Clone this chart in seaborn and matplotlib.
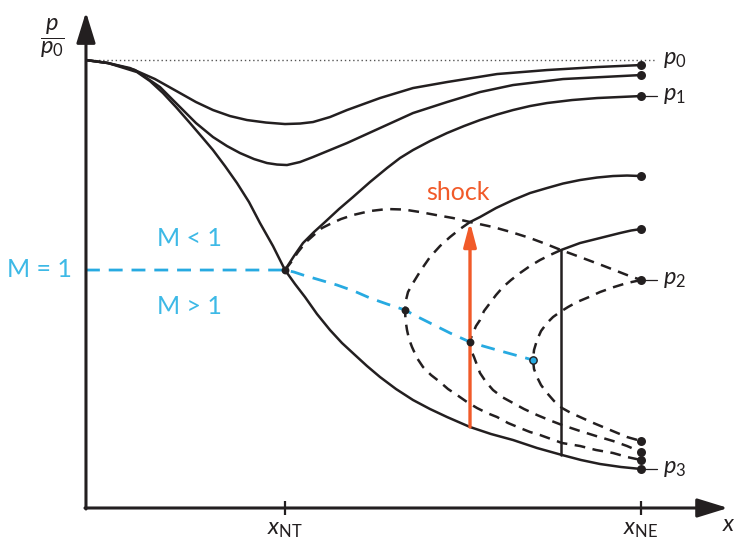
import matplotlib
matplotlib.use("Agg")
import matplotlib.pyplot as plt
import seaborn as sns

sns.set_style("white")
plt.rcParams["font.family"] = ["Lato", "DejaVu Sans"]
plt.rcParams["mathtext.fontset"] = "custom"
plt.rcParams["mathtext.rm"] = "Lato"
plt.rcParams["mathtext.it"] = "Lato:italic"
plt.rcParams["mathtext.bf"] = "Lato:bold"

INK = "#231f20"
BLUE = "#27aae1"
BLUE_TEXT = "#3db9e6"
ORANGE = "#f15a29"

# positions along the nozzle (throat x_NT, exit x_NE) and pressures (p0 = 448)
X_NT, X_NE, P0 = 199, 555, 448

# subsonic curves that never reach M = 1
x_sub_hi = [0, 22, 44, 69, 94, 110, 127, 144, 161, 180, 199, 214, 227, 244, 261, 294, 327, 361, 411, 461, 511, 555]
p_sub_hi = [448, 445, 440, 429, 415, 406, 398, 392, 388, 385.5, 384, 384.5, 386, 391, 398, 410, 420, 426, 434, 438, 441, 443]
x_sub_lo = [0, 22, 49, 74, 94, 110, 127, 141, 154, 168, 181, 191, 201, 214, 227, 244, 261, 294, 327, 361, 394, 427, 477, 555]
p_sub_lo = [448, 445, 438, 421, 401, 385, 371, 362, 355, 349, 345, 343.5, 343, 346, 351, 358, 365, 380, 395, 406, 416, 423, 429, 433]

# critical curve up to the throat, then subsonic (p1) or supersonic (p3)
x_crit = [0, 22, 51, 64, 77, 90, 104, 116, 127, 139, 151, 163, 174, 187, 199]
p_crit = [448, 445, 436, 427, 415, 401, 385, 371, 358, 342, 325, 306, 285, 262, 238]
x_p1 = [199, 208, 217, 228, 239, 253, 267, 284, 301, 314, 327, 344, 361, 378, 394, 411, 427, 444, 461, 486, 511, 533, 555]
p_p1 = [238, 252, 265, 276, 286, 299, 311, 326, 340, 350, 358, 367, 375, 382, 388, 393.5, 398, 402, 405, 408, 410, 411, 412]
x_p3 = [199, 209, 219, 231, 244, 256, 269, 281, 294, 310, 327, 344, 361, 384, 405, 427, 451, 476, 495, 514, 535, 555]
p_p3 = [238, 224, 211, 194, 178, 165, 153, 142, 131, 119, 108, 99, 91, 81, 74, 68, 60, 53, 48, 44, 41, 39]

# shocks in the divergent part and the subsonic flow behind them
x_shock = [384, 475]
p_shock_lo = [81, 53]
p_shock_hi = [286, 258]
x_after1 = [384, 394, 410, 427, 444, 461, 477, 494, 511, 527, 541, 555]
p_after1 = [286, 291, 300, 308, 315, 320, 324.5, 328, 330.5, 332, 332.5, 332]
x_after2 = [475, 494, 514, 534, 545, 555]
p_after2 = [258, 265, 270, 275, 277.5, 279]

# dashed: subsonic branch ending at p2 and the three loops
x_p2 = [199, 206, 212, 220, 229, 236, 244, 255, 267, 284, 301, 318, 334, 350, 367, 384, 407, 425, 444, 460, 475, 494, 518, 541, 555]
p_p2 = [238, 247, 256, 266, 274, 280, 284, 289, 293, 297, 299, 298.5, 296, 293, 290, 286, 281, 276, 270, 264, 258, 251, 242, 233, 228]
x_loop1 = [384, 374, 364, 354, 344, 335, 327, 322, 320, 319, 319.5, 321, 323, 326, 331, 337, 345, 354, 362, 371, 381, 391, 401, 411, 422, 434, 444, 454, 465, 476, 494, 510, 527, 541, 555]
p_loop1 = [286, 279, 271, 262, 251, 238, 225, 216, 208, 198, 188, 178, 169, 161, 150, 141, 133, 126, 119, 113, 106, 100, 95, 91, 85, 80, 76, 73, 69, 65, 62, 58, 55, 51, 48]
x_loop2 = [475, 464, 454, 444, 434, 425, 417, 410, 404, 398, 394, 390, 387, 385, 384, 384.5, 385, 388, 391, 394, 400, 407, 416, 427, 438, 451, 463, 476, 494, 510, 527, 541, 555]
p_loop2 = [258, 253, 248, 242, 235, 228, 221, 213, 205, 197, 188, 182, 175, 170, 166, 162, 158, 151, 143, 135, 126, 118, 111, 105, 99, 93, 88, 83, 77, 72, 67, 62, 56]
x_loop3 = [555, 541, 528, 514, 503, 491, 482, 474, 467, 461, 455, 451, 448, 447, 448, 451, 455, 461, 468, 476, 485, 494, 505, 517, 529, 541, 555]
p_loop3 = [228, 225, 221, 216, 211, 206, 201, 196, 191, 185, 177, 168, 158, 148, 139, 131, 123, 115, 107, 100, 95, 91, 86, 81, 76, 71, 67]

# M = 1 line
x_sonic = [0, 199, 208, 217, 234, 251, 268, 284, 301, 319, 332, 344, 364, 384, 397, 411, 429, 447]
p_sonic = [238, 238, 236, 233, 228, 223, 217, 210, 204, 198, 191, 185, 175, 166, 162, 158, 153, 148]

# marked points
x_end = [555] * 10
p_end = [443, 433, 412, 332, 279, 228, 67, 56, 48, 39]
x_mark = [199, 319, 384]
p_mark = [238, 198, 166]
x_mark_blue = [447]
p_mark_blue = [148]

x_ticks = [X_NT, X_NE]
x_ticklabels = [r"$x_\mathrm{NT}$", r"$x_\mathrm{NE}$"]
p_labels = [r"$p_0$", r"$p_1$", r"$p_2$", r"$p_3$"]
p_label_vals = [P0, 412, 228, 39]

fig = plt.figure(figsize=(7.38, 5.48), dpi=100)
ax = fig.add_axes([0.1165, 0.073, 0.87, 0.905])


def line(x, p, color=INK, lw=1.8, ls="-", z=2):
    sns.lineplot(x=x, y=p, sort=False, estimator=None, color=color,
                 lw=lw, ls=ls, zorder=z, ax=ax)


DASH = (0, (4.3, 3.0))
for x, p in [(x_sub_hi, p_sub_hi), (x_sub_lo, p_sub_lo), (x_crit, p_crit),
             (x_p1, p_p1), (x_p3, p_p3), (x_after1, p_after1), (x_after2, p_after2)]:
    line(x, p)
for x, p in [(x_p2, p_p2), (x_loop1, p_loop1), (x_loop2, p_loop2), (x_loop3, p_loop3)]:
    line(x, p, ls=DASH)
line(x_sonic, p_sonic, color=BLUE, lw=2.0, ls=(0, (5.0, 3.2)), z=3)

# p0 reference and label leaders
ax.plot([0, 569], [P0, P0], color="#555555", lw=1.0, ls=(0, (1, 2)), zorder=1)
for pv in p_label_vals[1:]:
    ax.plot([X_NE, 571], [pv, pv], color=INK, lw=0.9, zorder=2)

# shocks
line([x_shock[1]] * 2, [p_shock_lo[1], p_shock_hi[1]], lw=1.8)
ax.annotate("", xy=(x_shock[0], p_shock_hi[0]), xytext=(x_shock[0], p_shock_lo[0]),
            arrowprops=dict(arrowstyle="-|>,head_length=0.72,head_width=0.19",
                            mutation_scale=20, color=ORANGE, lw=2.4,
                            shrinkA=0, shrinkB=0), zorder=4)

sns.scatterplot(x=x_end, y=p_end, color=INK, s=42, linewidth=0, zorder=5, ax=ax)
sns.scatterplot(x=x_mark, y=p_mark, color=INK, s=32, linewidth=0, zorder=5, ax=ax)
sns.scatterplot(x=x_mark_blue, y=p_mark_blue, color=BLUE, s=28, edgecolor=INK,
                linewidth=1.0, zorder=5, ax=ax)

# axes with arrow heads
ax.set_xlim(0, 642)
ax.set_ylim(0, 496)
for s in ax.spines.values():
    s.set_visible(False)
arrow = dict(arrowstyle="-|>,head_length=0.94,head_width=0.29", mutation_scale=20,
             color=INK, lw=2.2, shrinkA=0, shrinkB=0)
ax.annotate("", xy=(0, 496), xytext=(0, -1), arrowprops=arrow, annotation_clip=False)
ax.annotate("", xy=(642, 0), xytext=(-1, 0), arrowprops=arrow, annotation_clip=False)

ax.set_xticks(x_ticks, x_ticklabels)
ax.set_yticks([])
ax.tick_params(axis="x", bottom=True, direction="inout", length=9.5, width=1.6,
               colors=INK, labelsize=17, pad=3)
ax.grid(False)

for lab, pv in zip(p_labels, p_label_vals):
    ax.text(577, pv - 4, lab, fontsize=17, color=INK, va="baseline", ha="left")
ax.text(636, -23, r"$x$", fontsize=17, color=INK, va="baseline", ha="left")
ax.text(-34, 470, r"$\dfrac{p}{p_0}$", fontsize=17, color=INK, ha="center", va="center")

ax.text(-14, 231, "M = 1", fontsize=18, color=BLUE_TEXT, ha="right", va="baseline")
ax.text(103, 262, "M < 1", fontsize=18, color=BLUE_TEXT, ha="center", va="baseline")
ax.text(103, 194, "M > 1", fontsize=18, color=BLUE_TEXT, ha="center", va="baseline")
ax.text(372, 308, "shock", fontsize=18, color=ORANGE, ha="center", va="baseline")

fig.savefig("out.png", dpi=100)
